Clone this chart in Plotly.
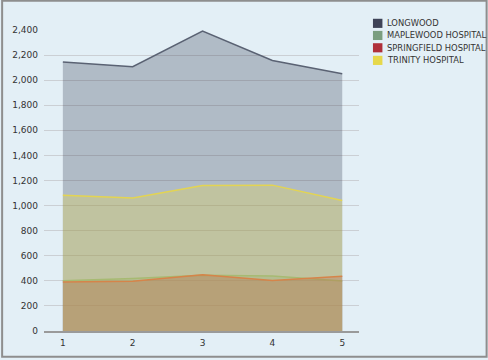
import plotly.graph_objects as go

categories = [1, 2, 3, 4, 5]
series_names = ["LONGWOOD", "MAPLEWOOD HOSPITAL", "SPRINGFIELD HOSPITAL", "TRINITY HOSPITAL"]
longwood = [2144, 2107, 2392, 2157, 2051]
maplewood = [400, 418, 444, 439, 398]
springfield = [390, 396, 448, 402, 436]
trinity = [1082, 1060, 1161, 1163, 1040]
y_ticks = [0, 200, 400, 600, 800, 1000, 1200, 1400, 1600, 1800, 2000, 2200, 2400]

values = [longwood, maplewood, springfield, trinity]
fills = ["rgba(59,66,86,0.30)", "rgba(122,158,128,0.30)", "rgba(176,48,58,0.30)", "rgba(230,216,74,0.30)"]
lines = ["#5A6273", "#8DAE84", "#D0604A", "#E3D452"]
swatches = ["#3E4357", "#7A9E80", "#B0303A", "#E6D84B"]

W, H = 488, 360
L, R, T, B = 43, 359, 30, 333

def px(x):
    return (x - L) / (R - L)

def py(y):
    return (B - y) / (B - T)

fig = go.Figure()
for name, vals, fc, lc in zip(series_names, values, fills, lines):
    fig.add_trace(go.Scatter(
        x=categories, y=vals, name=name, mode="lines",
        fill="tozeroy", fillcolor=fc,
        line=dict(color=lc, width=1.5),
        showlegend=False, hoverinfo="x+y+name",
    ))

shapes = []
annotations = []
row_y = [23.3, 35.5, 47.9, 60.6]
for name, col, yc in zip(series_names, swatches, row_y):
    shapes.append(dict(type="rect", xref="paper", yref="paper",
                       x0=px(373), x1=px(382.5), y0=py(yc + 4.6), y1=py(yc - 4.6),
                       fillcolor=col, line=dict(width=0)))
    annotations.append(dict(xref="paper", yref="paper", x=px(385.5), y=py(yc),
                            text=name, showarrow=False, xanchor="left", yanchor="middle",
                            font=dict(family="DejaVu Sans", size=8.4, color="#333333")))
# outer border
shapes.append(dict(type="rect", xref="paper", yref="paper",
                   x0=px(1), x1=px(487), y0=py(359), y1=py(0.5),
                   line=dict(color="#8E8E8E", width=2), fillcolor="rgba(0,0,0,0)", layer="above"))

fig.update_layout(
    width=W, height=H,
    margin=dict(l=L, r=W - R, t=T, b=H - B, pad=0),
    paper_bgcolor="#E3EFF6", plot_bgcolor="#E3EFF6",
    font=dict(family="DejaVu Sans", size=9, color="#333333"),
    showlegend=False,
    shapes=shapes, annotations=annotations,
    xaxis=dict(range=[0.73, 5.24], tickvals=categories, ticktext=[str(c) for c in categories],
               showgrid=False, zeroline=False, showline=True, linecolor="#9A9A9A", linewidth=2,
               ticks="", ticklabelstandoff=2, fixedrange=True),
    yaxis=dict(range=[0, 2400], tickvals=y_ticks, tickformat=",d",
               showgrid=True, gridcolor="#CBCFD4", gridwidth=1, zeroline=False,
               showline=False, ticks="", ticklabelstandoff=5, fixedrange=True),
)

fig.write_html("out.html", config={"displayModeBar": False},
               post_script="document.body.style.margin='0px';document.body.style.padding='0px';")
